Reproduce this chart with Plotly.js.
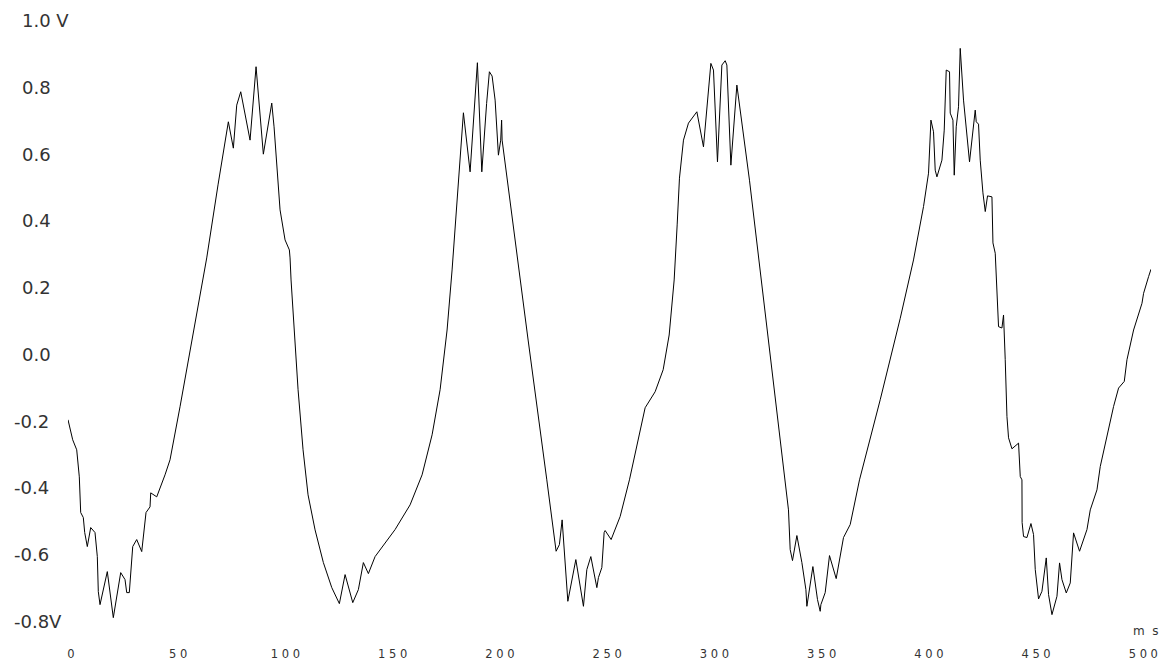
<!DOCTYPE html>
<html>
<head>
<meta charset="utf-8">
<script src="https://cdn.plot.ly/plotly-3.0.1.min.js"></script>
<style>html,body{margin:0;padding:0;background:#fff;}#chart{width:1167px;height:661px;}</style>
</head>
<body>
<div id="chart"></div>
<script>
// time in ms
var timeMs = [0,2.19,4.06,5.27,5.92,7.14,7.79,9.00,10.59,12.59,13.67,14.13,14.93,18.33,21.13,24.58,26.59,27.38,28.59,30.18,32.04,34.38,36.38,38.25,38.57,41.37,45.24,47.57,52.24,58.30,64.69,69.96,74.77,77.10,78.68,80.55,84.89,87.69,91.09,95.01,96.08,98.88,101.21,103.22,103.54,104.01,105.41,107.28,109.61,111.94,115.21,119.08,123.00,126.54,129.20,132.79,135.40,137.73,140.07,143.19,152.52,159.51,165.11,169.78,173.51,176.77,179.10,181.58,184.38,187.50,190.90,192.96,194.03,195.20,196.50,197.76,199.16,200.70,201.77,202.19,202.43,205.78,214.55,223.27,227.61,229.15,230.41,233.07,236.80,240.35,241.93,243.80,246.60,247.34,248.93,250.00,250.47,253.26,257.46,261.80,269.12,273.78,277.52,280.32,282.65,284.05,285.12,286.99,289.32,293.24,296.32,299.77,300.98,302.85,304.90,306.44,307.23,309.10,311.89,317.77,326.03,334.42,335.96,336.75,337.83,339.88,342.21,344.08,344.54,347.34,349.49,350.75,351.07,353.08,355.08,358.21,361.61,364.74,369.08,378.73,388.06,394.26,398.93,401.26,402.38,403.59,404.38,405.18,407.51,408.58,409.51,411.05,411.38,412.64,413.25,414.18,415.25,416.04,417.58,420.38,423.04,423.51,424.58,425.37,426.63,427.71,428.78,430.83,431.30,432.37,433.91,435.49,436.24,437.03,437.83,438.57,440.16,443.24,444.03,444.82,444.90,445.57,447.15,449.02,450.23,451.03,452.57,454.15,456.16,457.23,458.82,461.15,462.36,463.48,465.49,467.35,468.89,471.69,475.14,476.68,479.80,481.34,484.47,487.55,489.88,492.54,493.80,496.88,500.79,501.54,503.87,504.99];
// voltage in V
var voltage = [-0.196,-0.256,-0.286,-0.367,-0.474,-0.489,-0.534,-0.576,-0.519,-0.534,-0.606,-0.711,-0.750,-0.651,-0.789,-0.654,-0.675,-0.714,-0.714,-0.576,-0.555,-0.591,-0.474,-0.457,-0.415,-0.427,-0.361,-0.316,-0.157,0.058,0.289,0.508,0.697,0.618,0.747,0.787,0.642,0.862,0.600,0.753,0.682,0.433,0.343,0.313,0.289,0.223,0.073,-0.106,-0.286,-0.421,-0.526,-0.624,-0.699,-0.747,-0.660,-0.744,-0.705,-0.624,-0.657,-0.606,-0.525,-0.451,-0.361,-0.241,-0.106,0.073,0.253,0.469,0.724,0.547,0.874,0.547,0.662,0.752,0.847,0.834,0.762,0.597,0.642,0.702,0.642,0.472,0.043,-0.376,-0.590,-0.570,-0.496,-0.740,-0.615,-0.755,-0.645,-0.606,-0.699,-0.669,-0.639,-0.534,-0.528,-0.555,-0.486,-0.376,-0.160,-0.112,-0.046,0.058,0.223,0.388,0.528,0.642,0.693,0.727,0.622,0.872,0.852,0.577,0.867,0.880,0.867,0.567,0.807,0.522,0.073,-0.376,-0.466,-0.585,-0.618,-0.543,-0.624,-0.705,-0.755,-0.636,-0.735,-0.770,-0.750,-0.714,-0.603,-0.672,-0.549,-0.510,-0.376,-0.136,0.108,0.283,0.443,0.543,0.702,0.667,0.552,0.532,0.582,0.672,0.852,0.847,0.723,0.702,0.537,0.682,0.742,0.917,0.762,0.577,0.732,0.697,0.690,0.582,0.484,0.428,0.475,0.472,0.334,0.303,0.083,0.079,0.118,-0.016,-0.186,-0.250,-0.283,-0.266,-0.366,-0.376,-0.504,-0.546,-0.549,-0.507,-0.540,-0.645,-0.733,-0.710,-0.610,-0.720,-0.780,-0.725,-0.625,-0.675,-0.715,-0.685,-0.535,-0.590,-0.525,-0.466,-0.406,-0.336,-0.246,-0.156,-0.101,-0.081,-0.016,0.073,0.153,0.183,0.233,0.255];
// stray dot
var dotMs = [-0.3];
var dotV = [-0.403];

var xTickVals = [0,50,100,150,200,250,300,350,400,450,500];
var xTickText = ["0","5 0","1 0 0","1 5 0","2 0 0","2 5 0","3 0 0","3 5 0","4 0 0","4 5 0","5 0 0"];
var yTickVals = [1.0,0.8,0.6,0.4,0.2,0.0,-0.2,-0.4,-0.6,-0.8];
var yTickText = ["1.0 V","0.8","0.6","0.4","0.2","0.0","-0.2","-0.4","-0.6","-0.8V"];
var xUnit = "m\u00a0\u00a0s";

var font = "DejaVu Sans, Verdana, sans-serif";
var annotations = yTickVals.map(function(v,i){
  return {xref:'paper', yref:'y', x:0, y:v, xanchor:'left', yanchor:'middle',
    xshift: (v < 0 ? -56 : -48), text:yTickText[i], showarrow:false,
    font:{family:font, size:18, color:'#333'}};
});
annotations.push({xref:'x', yref:'paper', x:500, y:0, xanchor:'center', yanchor:'middle',
  xshift:6, yshift:7, text:xUnit, showarrow:false, font:{family:font, size:12, color:'#333'}});

var data = [
  {x:timeMs, y:voltage, type:'scatter', mode:'lines', line:{color:'#000', width:1}, hoverinfo:'none'},
  {x:dotMs, y:dotV, type:'scatter', mode:'markers', marker:{color:'#999', size:2}, cliponaxis:false, hoverinfo:'none'}
];
var layout = {
  width:1167, height:661,
  margin:{l:68, r:16, t:4, b:23, pad:0},
  paper_bgcolor:'#fff', plot_bgcolor:'#fff',
  showlegend:false,
  xaxis:{range:[0,505], showgrid:false, zeroline:false, showline:false, ticks:'',
    tickvals:xTickVals, ticktext:xTickText, tickfont:{family:font, size:11.5, color:'#333'},
    ticklabelstandoff:7, ticklabelshift:3},
  yaxis:{range:[-0.85,1.05], showgrid:false, zeroline:false, showline:false, ticks:'',
    showticklabels:false},
  annotations:annotations
};
Plotly.newPlot('chart', data, layout, {staticPlot:true, displayModeBar:false});
</script>
</body>
</html>
